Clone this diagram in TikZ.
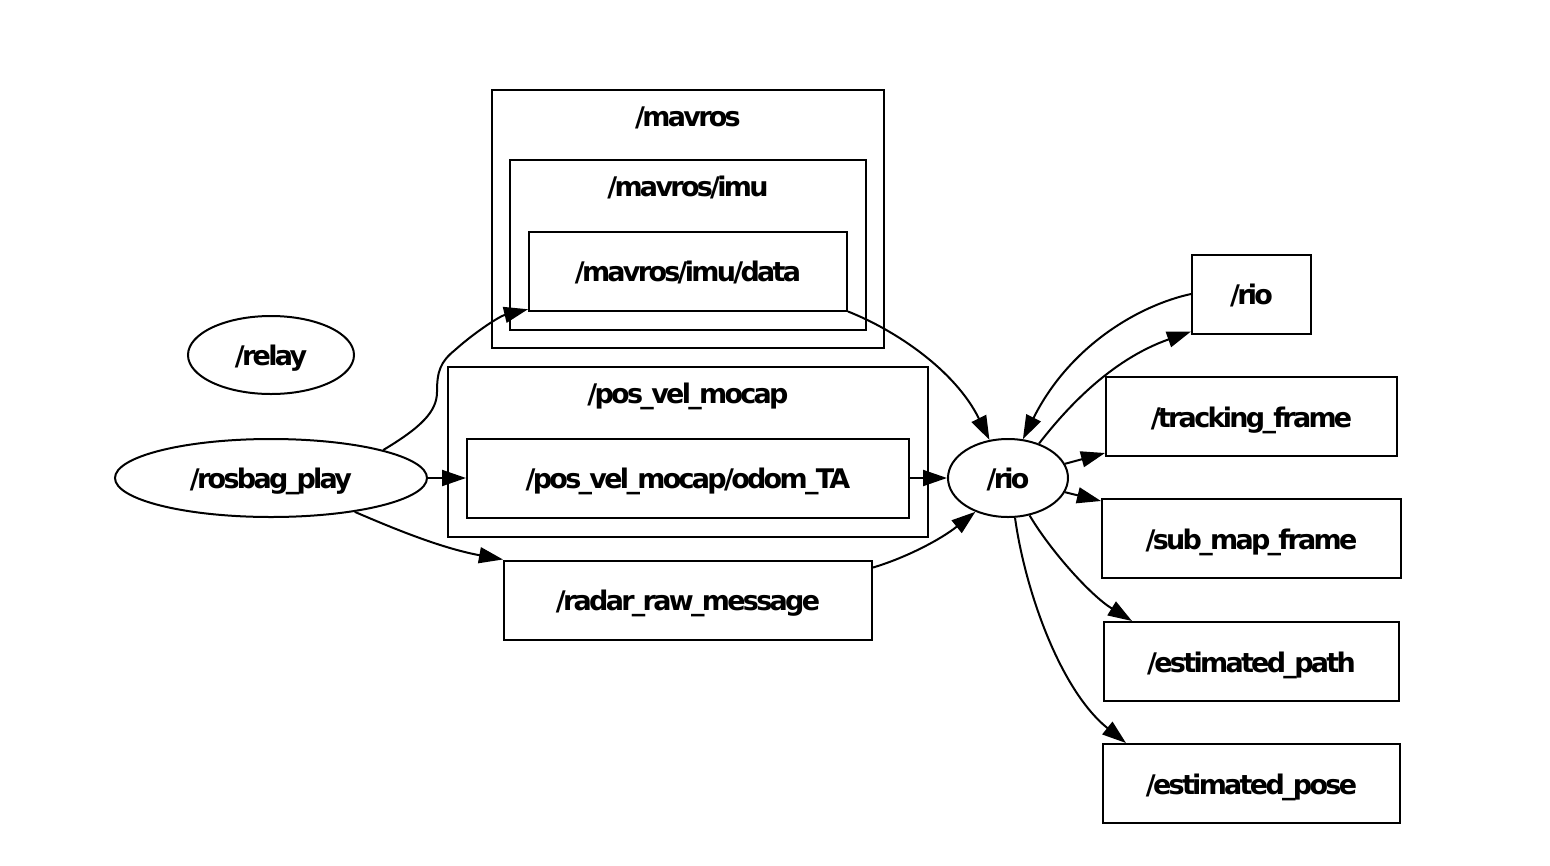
\documentclass[tikz,border=0pt]{standalone}
\usepackage{fontspec}
\newfontfamily\lab{DejaVu Sans Bold}[LetterSpace=-10]
\usetikzlibrary{arrows.meta,shapes.geometric}
\begin{document}
\begin{tikzpicture}[x=1pt,y=-1pt,
  every node/.style={font=\lab\fontsize{27}{32}\selectfont, inner sep=0pt, line width=2pt, text height=23pt, text depth=2pt},
  box/.style={draw, rectangle, minimum width=#1, minimum height=79pt},
  oval/.style={draw, ellipse},
  clus/.style={draw, line width=2pt},
  edge/.style={line width=2pt, -{Triangle[length=24pt,width=16pt]}}]
\useasboundingbox (0,0) rectangle (1550,865);
% clusters
\draw[clus] (492,90) rectangle (884,348);
\node (lmav) at (688,116) {/mavros};
\draw[clus] (510,160) rectangle (866,330);
\node (limu) at (688,186) {/mavros/imu};
\draw[clus] (448,367) rectangle (928,537);
\node (lpos) at (688,393) {/pos\_vel\_mocap};
% nodes
\node[oval, minimum width=166pt, minimum height=78pt] (relay) at (271,355) {/relay};
\node[oval, minimum width=312pt, minimum height=78pt] (rb) at (271,478) {/rosbag\_play};
\node[box=318pt] (data) at (688,271) {/mavros/imu/data};
\node[box=442pt] (odom) at (688,478) {/pos\_vel\_mocap/odom\_TA};
\node[box=368pt] (radar) at (688,600) {/radar\_raw\_message};
\node[oval, minimum width=120pt, minimum height=78pt] (rio) at (1008,478) {/rio};
\node[box=119pt] (riobox) at (1251.5,294) {/rio};
\node[box=291pt] (track) at (1251.5,416.5) {/tracking\_frame};
\node[box=299pt] (sub) at (1251.5,538.5) {/sub\_map\_frame};
\node[box=295pt] (path) at (1251.5,661.5) {/estimated\_path};
\node[box=297pt] (pose) at (1251.5,783.5) {/estimated\_pose};
% edges
\draw[edge] (rb.14.5) .. controls (420,428) and (437,412) .. (437,392)
  .. controls (437,372) and (440,362) .. (455,350)
  .. controls (475,332) and (500,316) .. (data);
\draw[edge] (rb.east) -- (odom.west);
\draw[edge] (rb.-22.5) .. controls (390,527) and (440,548) .. (radar.north west);
\draw[edge] (data.south east) .. controls (895,330) and (955,370) .. (rio.116);
\draw[edge] (odom.east) -- (rio.west);
\draw[edge] ([yshift=-8pt]radar.north east) .. controls (905,558) and (940,540) .. (rio.-134);
\draw[edge] (riobox.west) .. controls (1140,305) and (1070,345) .. (rio.69);
\draw[edge] (rio.48) .. controls (1065,410) and (1110,360) .. ([yshift=3pt]riobox.south west);
\draw[edge] (rio.14.5) -- ([yshift=4pt]track.south west);
\draw[edge] (rio.-14) -- ([yshift=-3pt]sub.north west);
\draw[edge] (rio.-60) .. controls (1050,550) and (1090,595) .. ([xshift=29pt]path.north west);
\draw[edge] (rio.-80) .. controls (1025,590) and (1060,690) .. ([xshift=24pt]pose.north west);
\end{tikzpicture}
\end{document}
